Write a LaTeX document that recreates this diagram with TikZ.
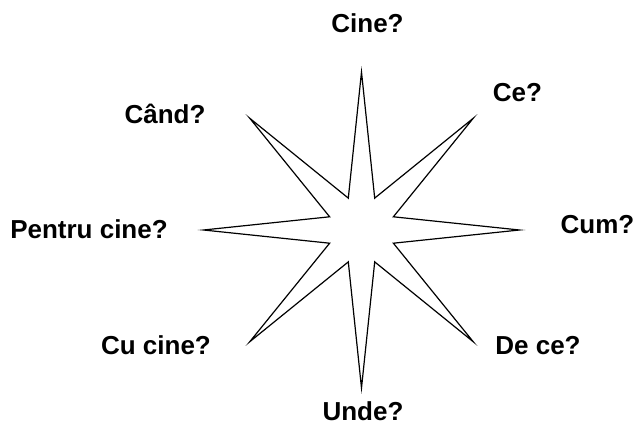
\documentclass[tikz,border=0pt]{standalone}
\usepackage{fontspec}
\setmainfont{Liberation Sans}
\begin{document}
\begin{tikzpicture}[x=1pt,y=-1pt,
  lbl/.style={font=\bfseries\fontsize{26}{30}\selectfont, anchor=base, inner sep=0pt},
  starline/.style={draw=black, line width=1.2pt, fill=white, line join=miter}]
\useasboundingbox (0,0) rectangle (635,425);
\coordinate (c) at (361.5,230);
\draw[starline] ([shift={(c)}]90:158)
  \foreach \i in {0,...,7}{ -- ([shift={(c)}]{90+45*\i+22.5}:34.5) -- ([shift={(c)}]{90+45*\i+45}:158) } -- cycle;
\node[lbl] (cine) at (367.5,33) {Cine?};
\node[lbl] (ce) at (517.5,101.5) {Ce?};
\node[lbl] (cum) at (597.5,233.5) {Cum?};
\node[lbl] (decel) at (538,354.5) {De ce?};
\node[lbl] (unde) at (363,420) {Unde?};
\node[lbl] (cucine) at (156,354.5) {Cu cine?};
\node[lbl] (pentru) at (89,238.5) {Pentru cine?};
\node[lbl] (cand) at (165,123.5) {Când?};
\end{tikzpicture}
\end{document}
